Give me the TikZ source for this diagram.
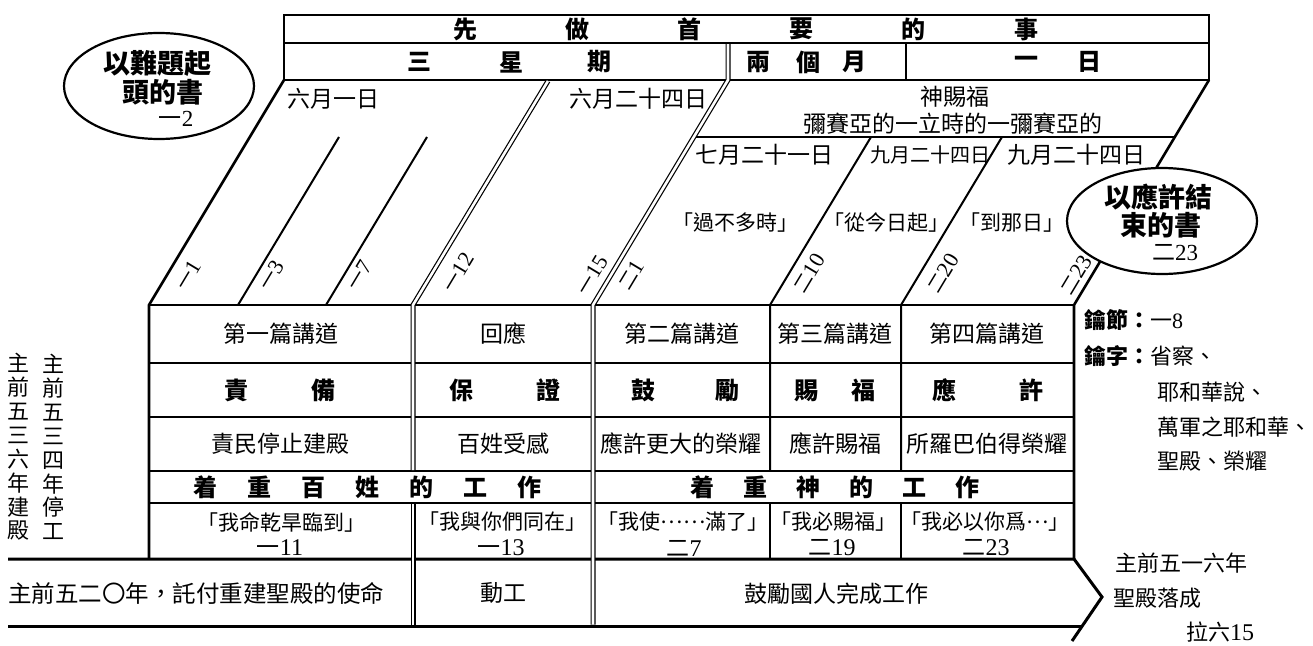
\documentclass[tikz,border=0pt]{standalone}
\usepackage{fontspec}
\setmainfont{Liberation Serif}
\newfontfamily\cjk{Noto Sans CJK TC}
\newfontfamily\numf{Liberation Serif}
\usetikzlibrary{shapes.geometric}

\tikzset{
  frame/.style={line width=2.6pt},
  slim/.style={line width=2pt},
  dbl/.style={double, line width=1.2pt, double distance=2.6pt},
  oval/.style={draw, ellipse, fill=white, line width=2.2pt, minimum width=190pt, minimum height=106pt, inner sep=0pt},
  txt/.style={inner sep=0pt, font=\cjk\fontsize{23}{24}\selectfont},
  head/.style={inner sep=0pt, font=\cjk\bfseries\fontsize{24}{24}\selectfont},
  big/.style={inner sep=0pt, font=\cjk\bfseries\fontsize{27}{27}\selectfont},
  quote/.style={inner sep=0pt, font=\cjk\fontsize{21}{21}\selectfont},
  side/.style={inner sep=0pt, anchor=west, font=\cjk\fontsize{22}{22}\selectfont},
  vref/.style={inner sep=0pt, rotate=59, font=\cjk\fontsize{19}{19}\selectfont},
}
\newcommand\middots[1]{\raisebox{0.3em}{#1}}

\begin{document}
\begin{tikzpicture}[x=1pt, y=-1pt]
  \fill[white] (0,0) rectangle (1313,645);
  \useasboundingbox (0,0) rectangle (1313,645);

  % header
  \draw[frame] (284,15) rectangle (1209,80);
  \draw[frame] (284,43) -- (1209,43);
  \draw[frame] (906,43) -- (906,80);

  % slanted band and table
  \draw[frame] (284,80) -- (149,305) -- (149,559);
  \draw[frame] (1209,80) -- (1074,305) -- (1074,559);
  \foreach \y in {305,363,417,471,503}
    \draw[frame] (149,\y) -- (1074,\y);
  \draw[slim] (339,137) -- (238,305);
  \draw[slim] (427,137) -- (326,305);
  \draw[slim] (694,137) -- (1175,137);
  \draw[slim] (871,137) -- (770,305) -- (770,471);
  \draw[slim] (770,503) -- (770,559);
  \draw[slim] (1002,137) -- (901,305) -- (901,471);
  \draw[slim] (901,503) -- (901,559);

  % bottom arrow
  \draw[frame, line width=3pt] (8,559) -- (1074,559) -- (1102,597) -- (1072,641);
  \draw[frame, line width=3pt] (8,626) -- (1082,626);

  \draw[dbl] (548,81) -- (413,305) -- (413,470);
  \draw[dbl] (413,504) -- (413,624.5);
  \draw[dbl] (728,44) -- (728,80) -- (593,305) -- (593,624.5);

  \node[oval] (openbook) at (159,86) {};
  \node[oval] (closebook) at (1162,221) {};
  \node[big] (open1) at (157,63) {以難題起};
  \node[big] (open2) at (163,92) {頭的書};
  \node[txt] (openref) at (176,119) {一{\numf 2}};
  \node[big] (close1) at (1158,197) {以應許結};
  \node[big] (close2) at (1161,225) {束的書};
  \node[txt] (closeref) at (1175,253) {二{\numf 23}};

  \foreach \c [count=\i from 0] in {先,做,首,要,的,事}
    \node[head] (top\i) at (465+112.2*\i,29) {\c};
  \node[head] (three1) at (419,62) {三};
  \node[head] (three2) at (511,62) {星};
  \node[head] (three3) at (599,62) {期};
  \node[head] (two1) at (758,62) {兩};
  \node[head] (two2) at (808,62) {個};
  \node[head] (two3) at (854,62) {月};
  \node[head] (one1) at (1026,62) {一};
  \node[head] (one2) at (1089,62) {日};

  \node[txt, anchor=west] (jun1) at (287,99) {六月一日};
  \node[txt, anchor=west] (jun24) at (569,99) {六月二十四日};
  \node[txt] (bless) at (955,97) {神賜福};
  \node[txt] (messiah) at (953,124) {彌賽亞的一立時的一彌賽亞的};
  \node[txt, anchor=west] (jul21) at (695,155) {七月二十一日};
  \node[txt, anchor=west, font=\cjk\fontsize{20}{20}\selectfont] (sep24a) at (870,155) {九月二十四日};
  \node[txt, anchor=west] (sep24b) at (1007,155) {九月二十四日};
  \node[quote] (soon) at (735,223) {「過不多時」};
  \node[quote] (today) at (886,223) {「從今日起」};
  \node[quote] (thatday) at (1012,223) {「到那日」};

  \foreach \x/\y/\k/\n [count=\i] in {188/275/一/1, 271/275/一/3, 359/275/一/7,
      458/272/一/12, 592/275/一/15, 631/275/二/1, 809/273/二/10, 943/273/二/20, 1076/275/二/23}
    \node[vref] (verse\i) at (\x,\y) {\k{\numf\fontsize{22}{22}\selectfont\n}};

  % table rows
  \node[txt] (talk1) at (281,334) {第一篇講道};
  \node[txt] (reply) at (503,334) {回應};
  \node[txt] (talk2) at (682,334) {第二篇講道};
  \node[txt] (talk3) at (835,334) {第三篇講道};
  \node[txt] (talk4) at (987,334) {第四篇講道};

  \node[head] (rebuke) at (280,390) {責\hspace{64pt}備};
  \node[head] (assure) at (505,390) {保\hspace{64pt}證};
  \node[head] (urge) at (685,390) {鼓\hspace{60pt}勵};
  \node[head] (grant) at (835,390) {賜\hspace{33pt}福};
  \node[head] (promise) at (988,390) {應\hspace{63pt}許};

  \node[txt] (stop) at (280,444) {責民停止建殿};
  \node[txt] (moved) at (503,444) {百姓受感};
  \node[txt] (glory) at (681,444) {應許更大的榮耀};
  \node[txt] (blessed) at (835,444) {應許賜福};
  \node[txt] (zerub) at (987,444) {所羅巴伯得榮耀};

  \node[head] (peoplework) at (367,487) {着\hspace{30pt}重\hspace{30pt}百\hspace{30pt}姓\hspace{30pt}的\hspace{30pt}工\hspace{30pt}作};
  \node[head] (godwork) at (835,487) {着\hspace{29pt}重\hspace{29pt}神\hspace{29pt}的\hspace{29pt}工\hspace{29pt}作};

  \node[quote] (drought) at (281,522) {「我命乾旱臨到」};
  \node[quote] (withyou) at (502,522) {「我與你們同在」};
  \node[quote] (fill) at (683,522) {「我使\middots{……}滿了」};
  \node[quote] (willbless) at (833,522) {「我必賜福」};
  \node[quote] (signet) at (985,522) {「我必以你爲\middots{…}」};
  \node[txt] (ref11) at (280,548) {一{\numf\fontsize{24}{24}\selectfont 11}};
  \node[txt] (ref13) at (501,548) {一{\numf\fontsize{24}{24}\selectfont 13}};
  \node[txt] (ref7) at (684,548) {二{\numf\fontsize{24}{24}\selectfont 7}};
  \node[txt] (ref19) at (832,548) {二{\numf\fontsize{24}{24}\selectfont 19}};
  \node[txt] (ref23) at (986,548) {二{\numf\fontsize{24}{24}\selectfont 23}};

  % bottom arrow text
  \node[txt, anchor=west, font=\cjk\fontsize{23.5}{24}\selectfont] (mission) at (8,593) {主前五二〇年，託付重建聖殿的使命};
  \node[txt] (begin) at (503,593) {動工};
  \node[txt] (finish) at (836,594) {鼓勵國人完成工作};

  \node[txt, align=center, font=\cjk\fontsize{22}{23.9}\selectfont] (built) at (19,447) {主\\前\\五\\三\\六\\年\\建\\殿};
  \node[txt, align=center, font=\cjk\fontsize{22}{23.9}\selectfont] (halted) at (53,447) {主\\前\\五\\三\\四\\年\\停\\工};

  \node[side] (keyverse) at (1084,320) {\bfseries 鑰節：\mdseries 一{\numf 8}};
  \node[side] (keyword) at (1084,356) {\bfseries 鑰字：\mdseries 省察、};
  \node[side] (kw2) at (1157,392) {耶和華說、};
  \node[side] (kw3) at (1157,427) {萬軍之耶和華、};
  \node[side] (kw4) at (1157,461) {聖殿、榮耀};

  \node[side] (done1) at (1115,563) {主前五一六年};
  \node[side] (done2) at (1113,598) {聖殿落成};
  \node[side] (done3) at (1186,632) {拉六{\numf\fontsize{24}{24}\selectfont 15}};
\end{tikzpicture}
\end{document}
